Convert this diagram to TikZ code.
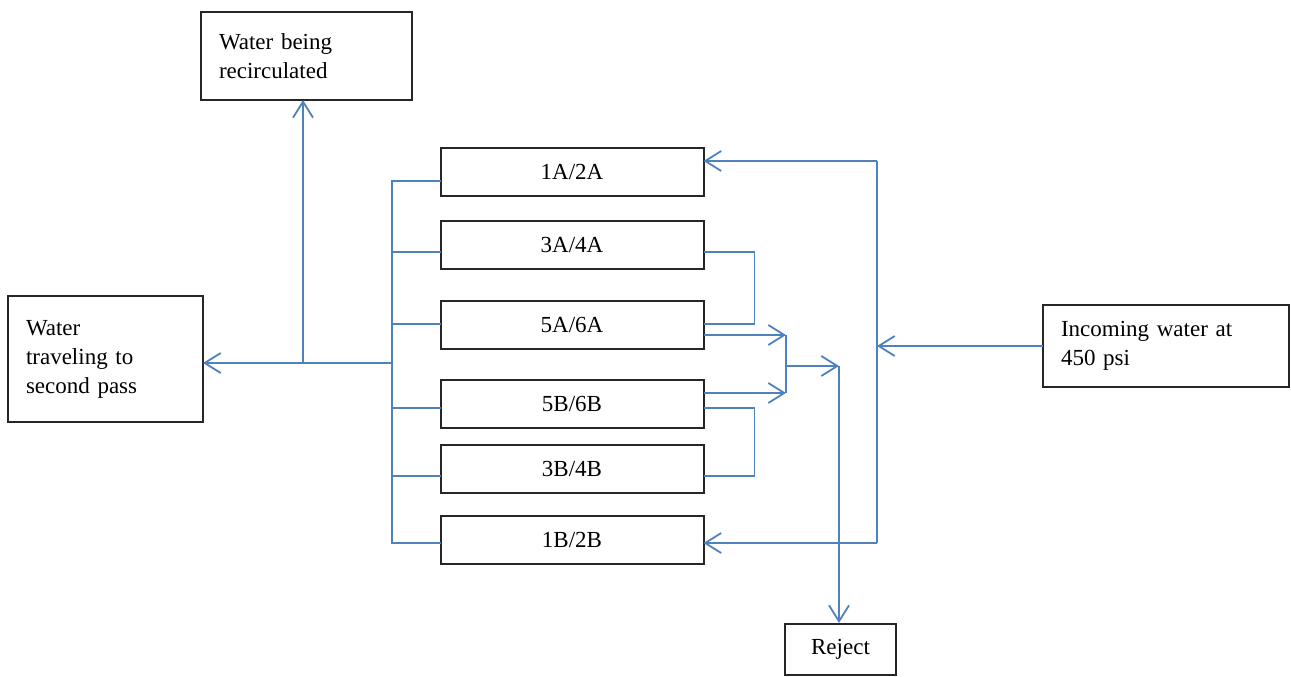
\documentclass[tikz,border=0pt]{standalone}
\usepackage{fontspec}
\setmainfont{Liberation Serif}
\usetikzlibrary{arrows.meta,calc,positioning}
\definecolor{pipe}{RGB}{79,129,189}

\begin{document}
\begin{tikzpicture}[x=1pt,y=-1pt]
		\tikzstyle{every node}=[font=\fontsize{23}{29}\selectfont]
		\tikzstyle{unit}=[draw=black!85, line width=2pt, minimum width=263pt, minimum height=48pt, inner sep=0pt, outer sep=0pt]
		\tikzstyle{tank}=[draw=black!85, line width=2pt, align=left, inner xsep=18pt, inner ysep=0pt, outer sep=0pt]
		\tikzstyle{flow}=[draw=pipe, line width=1.8pt]
		\tikzstyle{feed}=[flow, -{Straight Barb[length=16pt,width=20pt]}]
		\useasboundingbox (0,0) rectangle (1291,677);
		% pressure vessels
		\node [unit] (v1a) at (572,171.5) {1A/2A};
		\node [unit] (v3a) at (572,245) {3A/4A};
		\node [unit] (v5a) at (572,325) {5A/6A};
		\node [unit] (v5b) at (572,403.5) {5B/6B};
		\node [unit] (v3b) at (572,469) {3B/4B};
		\node [unit] (v1b) at (572,540) {1B/2B};
		% in and out
		\node [tank, text width=175pt, minimum height=88pt] (recirc) at (306.5,56) {Water being\\recirculated};
		\node [tank, text width=159pt, minimum height=126pt] (pass) at (105.5,359) {Water\\traveling to\\second pass};
		\node [tank, text width=210pt, minimum height=82pt] (inflow) at (1166,346) {Incoming water at\\450 psi};
		\node [draw=black!85, line width=2pt, minimum width=111pt, minimum height=51pt, inner sep=0pt] (reject) at (840.5,649.5) {Reject};
		\coordinate (bus) at (392,363);
		\coordinate (tee) at (303,363);
		\coordinate (ftop) at (877,161);
		\coordinate (fbot) at (877,543);
		\coordinate (mix) at (786,366);
		\coordinate (rej) at (839,366);
		% permeate side
		\draw [flow] ($(v1a.west)+(0,9.5)$) -| (bus);
		\draw [flow] ($(v1b.west)+(0,3)$) -| (bus);
		\foreach \v/\dy in {v3a/7, v5a/-1, v5b/4.5, v3b/7}
			\draw [flow] ($(\v.west)+(0,\dy)$) -- ($(bus |- \v.west)+(0,\dy)$);
		\draw [feed] (bus) -- (pass.east |- bus);
		\draw [feed] (tee) -- (tee |- recirc.south);
		% feed side
		\draw [flow] (ftop) -- (fbot);
		\draw [feed] (inflow.west) -- (ftop |- inflow.west);
		\draw [feed] (ftop) -- (v1a.east |- ftop);
		\draw [feed] (fbot) -- (v1b.east |- fbot);
		\draw [flow] ($(v3a.east)+(0,7)$) -| ($(v5a.east)+(51,-1)$) -- ($(v5a.east)+(0,-1)$);
		\draw [flow] ($(v3b.east)+(0,7)$) -| ($(v5b.east)+(51,4.5)$) -- ($(v5b.east)+(0,4.5)$);
		% concentrate to reject
		\draw [feed] ($(v5a.east)+(0,10)$) -- ($(mix |- v5a.east)+(0,10)$);
		\draw [feed] ($(v5b.east)+(0,-10.5)$) -- ($(mix |- v5b.east)+(0,-10.5)$);
		\draw [flow] ($(mix |- v5a.east)+(0,10)$) -- ($(mix |- v5b.east)+(0,-10.5)$);
		\draw [feed] (mix) -- (rej);
		\draw [feed] (rej) -- (rej |- reject.north);
\end{tikzpicture}
\end{document}
